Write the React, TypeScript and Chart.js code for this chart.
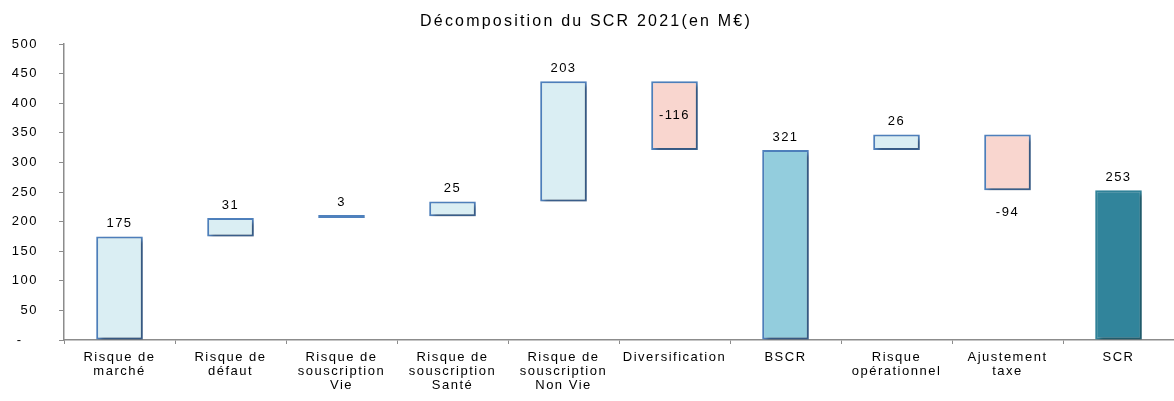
import React, { useEffect, useRef } from "react";
import { Chart, registerables } from "chart.js";

Chart.register(...registerables);

const TITLE = "Décomposition du SCR 2021(en M€)";

const categories: (string | string[])[] = [
  ["Risque de", "marché"],
  ["Risque de", "défaut"],
  ["Risque de", "souscription", "Vie"],
  ["Risque de", "souscription", "Santé"],
  ["Risque de", "souscription", "Non Vie"],
  "Diversification",
  "BSCR",
  ["Risque", "opérationnel"],
  ["Ajustement", "taxe"],
  "SCR",
];

// deltas for steps, absolute values for totals
const values = [175, 31, 3, 25, 203, -116, 321, 26, -94, 253];
const kinds = ["up", "up", "up", "up", "up", "down", "total", "up", "down", "final"];
const labelPlacement = ["above", "above", "above", "above", "above", "center", "above", "above", "below", "above"];

const Y_MIN = 0;
const Y_MAX = 500;
const Y_STEP = 50;

const FILL: Record<string, string> = {
  up: "#DAEEF3",
  down: "#F9D6CF",
  total: "#93CDDD",
  final: "#31849B",
};
const BORDER: Record<string, string> = {
  up: "#4F81BD",
  down: "#4F81BD",
  total: "#4F81BD",
  final: "#31849B",
};

const FONT = "'Liberation Sans', Arial, sans-serif";
const TEXT = "#000000";
const AXIS = "#8c8c8c";

function buildRanges(): [number, number][] {
  const out: [number, number][] = [];
  let running = 0;
  values.forEach((v, i) => {
    const k = kinds[i];
    if (k === "total" || k === "final") {
      out.push([0, v]);
      running = v;
    } else {
      out.push([running, running + v]);
      running += v;
    }
  });
  return out;
}

export default function App() {
  const ref = useRef<HTMLCanvasElement | null>(null);

  useEffect(() => {
    const canvas = ref.current;
    if (!canvas) return;

    const spacingPlugin = {
      id: "spacing",
      beforeDraw(chart: any) {
        chart.ctx.letterSpacing = "1.5px";
      },
    };

    const barsPlugin = {
      id: "barsExtra",
      beforeDatasetsDraw(chart: any) {
        const ctx = chart.ctx;
        ctx.save();
        ctx.shadowColor = "rgba(0,0,0,0.35)";
        ctx.shadowBlur = 4;
        ctx.shadowOffsetX = 3;
        ctx.shadowOffsetY = 3;
      },
      afterDatasetsDraw(chart: any) {
        const ctx = chart.ctx;
        ctx.restore();
        const meta = chart.getDatasetMeta(0);
        ctx.save();
        ctx.letterSpacing = "1.5px";
        ctx.font = `13px ${FONT}`;
        ctx.fillStyle = TEXT;
        ctx.textAlign = "center";
        ctx.textBaseline = "middle";
        meta.data.forEach((el: any, i: number) => {
          const p = el.getProps(["x", "y", "base"], true);
          const top = Math.min(p.y, p.base);
          const bottom = Math.max(p.y, p.base);
          let ty = top - 13;
          if (labelPlacement[i] === "center") ty = (top + bottom) / 2;
          if (labelPlacement[i] === "below") ty = bottom + 22;
          ctx.fillText(String(values[i]), p.x, ty);
        });
        ctx.restore();
      },
    };

    const titlePlugin = {
      id: "customTitle",
      afterDraw(chart: any) {
        const ctx = chart.ctx;
        ctx.save();
        ctx.letterSpacing = "2.2px";
        ctx.font = `16px ${FONT}`;
        ctx.fillStyle = TEXT;
        ctx.textAlign = "center";
        ctx.textBaseline = "alphabetic";
        ctx.fillText(TITLE, 586, 26);
        ctx.restore();
      },
    };

    const chart = new Chart(canvas, {
      type: "bar",
      data: {
        labels: categories as any,
        datasets: [
          {
            data: buildRanges() as any,
            backgroundColor: kinds.map((k) => FILL[k]),
            borderColor: kinds.map((k) => BORDER[k]),
            borderWidth: 2,
            borderSkipped: false,
            minBarLength: 3,
            categoryPercentage: 1,
            barPercentage: 0.42,
          },
        ],
      },
      options: {
        animation: false,
        responsive: false,
        layout: { padding: { top: 44, left: 0, right: 0, bottom: 0 } },
        plugins: {
          legend: { display: false },
          title: { display: false },
          tooltip: { enabled: false },
        },
        scales: {
          x: {
            grid: {
              display: true,
              drawOnChartArea: false,
              drawTicks: true,
              tickLength: 4,
              color: AXIS,
              offset: true,
            },
            border: { display: true, color: AXIS, width: 1.5 },
            ticks: {
              color: TEXT,
              font: { family: FONT, size: 13, lineHeight: 1.08 },
              padding: 6,
              maxRotation: 0,
              autoSkip: false,
            },
            afterFit(scale: any) {
              scale.height = 61;
            },
          },
          y: {
            min: Y_MIN,
            max: Y_MAX,
            grid: {
              display: true,
              drawOnChartArea: false,
              drawTicks: true,
              tickLength: 5,
              color: AXIS,
            },
            border: { display: true, color: AXIS, width: 1.5 },
            ticks: {
              stepSize: Y_STEP,
              color: TEXT,
              font: { family: FONT, size: 13 },
              padding: 21,
              callback: (v: any) => (Number(v) === 0 ? "-   " : String(v)),
            },
            afterFit(scale: any) {
              scale.width = 64;
            },
          },
        },
      } as any,
      plugins: [spacingPlugin, barsPlugin, titlePlugin],
    });

    return () => chart.destroy();
  }, []);

  return (
    <div style={{ position: "absolute", left: 0, top: 0, width: 1174, height: 401, background: "#fff" }}>
      <canvas ref={ref} width={1174} height={401} style={{ display: "block" }} />
    </div>
  );
}
